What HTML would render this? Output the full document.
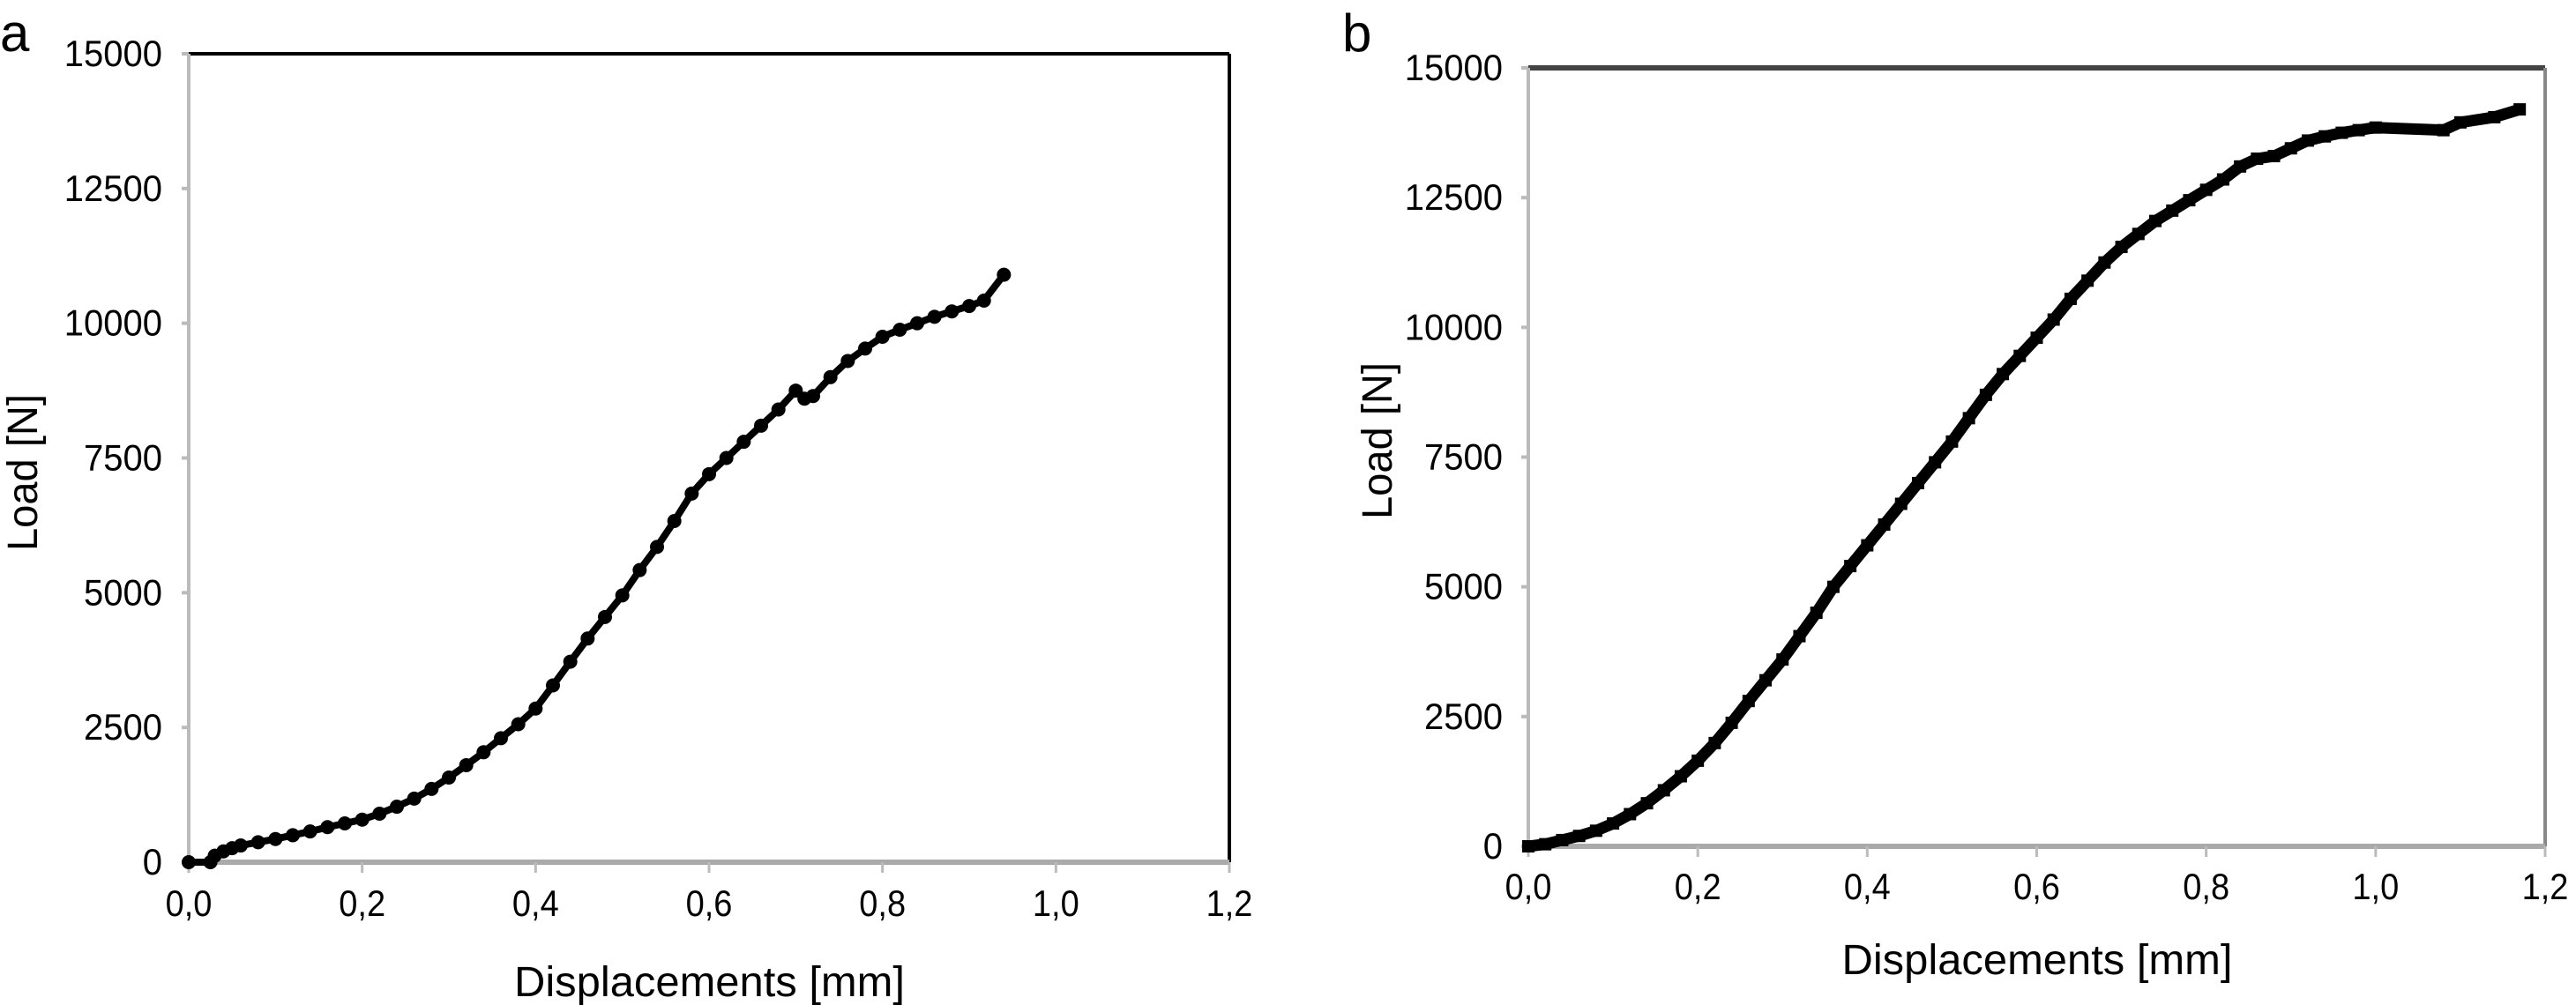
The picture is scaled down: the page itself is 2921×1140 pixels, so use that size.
<!DOCTYPE html>
<html><head><meta charset="utf-8">
<style>
html,body{margin:0;padding:0;background:#fff;}
svg{display:block;font-family:"Liberation Sans",Arial,sans-serif;}
</style></head>
<body>
<svg id="chart" width="2921" height="1140" viewBox="0 0 2921 1140" xmlns="http://www.w3.org/2000/svg">
<g id="pa"></g>
<g id="pb"></g>
</svg>
<script>
const xTicks = [0, 0.2, 0.4, 0.6, 0.8, 1.0, 1.2];
const xTickLabels = ["0,0", "0,2", "0,4", "0,6", "0,8", "1,0", "1,2"];
const yTicks = [0, 2500, 5000, 7500, 10000, 12500, 15000];
const yTickLabels = ["0", "2500", "5000", "7500", "10000", "12500", "15000"];

const dispA = [0,0.025,0.03,0.04,0.05,0.06,0.08,0.1,0.12,0.14,0.16,0.18,0.2,0.22,0.24,0.26,0.28,0.3,0.32,0.34,0.36,0.38,0.4,0.42,0.44,0.46,0.48,0.5,0.52,0.54,0.56,0.58,0.6,0.62,0.64,0.66,0.68,0.7,0.71,0.72,0.74,0.76,0.78,0.8,0.82,0.84,0.86,0.88,0.9,0.917,0.94];
const loadA = [0,0,120,200,260,310,370,430,500,570,650,720,790,900,1030,1180,1360,1570,1800,2040,2300,2560,2850,3280,3720,4150,4550,4950,5420,5850,6330,6840,7200,7500,7800,8100,8400,8750,8600,8650,9000,9300,9530,9750,9880,10000,10120,10220,10320,10420,10900];

const dispB = [0,0.02,0.04,0.06,0.08,0.1,0.12,0.14,0.16,0.18,0.2,0.22,0.24,0.26,0.28,0.3,0.32,0.34,0.36,0.38,0.4,0.42,0.44,0.46,0.48,0.5,0.52,0.54,0.56,0.58,0.6,0.62,0.64,0.66,0.68,0.7,0.72,0.74,0.76,0.78,0.8,0.82,0.84,0.86,0.88,0.9,0.92,0.94,0.96,0.98,1.0,1.08,1.1,1.14,1.17];
const loadB = [0,40,120,200,300,440,620,830,1080,1350,1650,1990,2380,2800,3200,3600,4050,4500,5000,5400,5800,6200,6600,7000,7400,7800,8250,8700,9100,9450,9800,10150,10550,10900,11250,11550,11800,12050,12250,12450,12650,12850,13100,13250,13300,13450,13600,13680,13750,13800,13850,13800,13950,14050,14200];

const NS = "http://www.w3.org/2000/svg";
function mk(parent, tag, attrs, text){
  const e = document.createElementNS(NS, tag);
  for (const k in attrs) e.setAttribute(k, attrs[k]);
  if (text !== undefined) e.textContent = text;
  parent.appendChild(e);
  return e;
}

function drawPanel(g, cfg, xs, ys){
  const sx = v => cfg.l + v / 1.2 * (cfg.r - cfg.l);
  const sy = v => cfg.b - v / 15000 * (cfg.b - cfg.t);
  const top = mk(g, 'line', {x1:cfg.l, y1:cfg.t, x2:cfg.r, y2:cfg.t, stroke:cfg.topCol, 'stroke-width':cfg.topW});
  
  
  const right = mk(g, 'line', {x1:cfg.r, y1:cfg.t, x2:cfg.r, y2:cfg.b, stroke:cfg.rightCol, 'stroke-width':cfg.rightW});
  
  
  const yax = mk(g, 'line', {x1:cfg.l, y1:cfg.t, x2:cfg.l, y2:cfg.b, stroke:'#bbb', 'stroke-width':4});
  
  
  const xax = mk(g, 'line', {x1:cfg.l, y1:cfg.b, x2:cfg.r, y2:cfg.b, stroke:'#aaa', 'stroke-width':6});
  
  
  yTicks.forEach((v, i) => {
    const t = mk(g, 'line', {x1:cfg.l-8, y1:sy(v), x2:cfg.l, y2:sy(v), stroke:'#bbb', 'stroke-width':4});
    
    
    const lb = mk(g, 'text', {x:0, y:0, 'text-anchor':'end', 'font-size':40, fill:'#000', transform:`translate(${cfg.ylabR},${sy(v)+14}) scale(1,1.05)`}, yTickLabels[i]);
    
    
  });
  xTicks.forEach((v, i) => {
    const t = mk(g, 'line', {x1:sx(v), y1:cfg.b, x2:sx(v), y2:cfg.b+12, stroke:'#bbb', 'stroke-width':3});
    
    
    const lb = mk(g, 'text', {x:0, y:0, 'text-anchor':'middle', 'font-size':40, fill:'#000', transform:`translate(${sx(v)},${cfg.xlabY}) scale(0.95,1.05)`}, xTickLabels[i]);
    
    
  });
  const cx = (cfg.l+cfg.r)/2;
  const xt = mk(g, 'text', {x:cx - 221, y:cfg.xtitleY, 'font-size':48, fill:'#000', textLength:443, lengthAdjust:'spacingAndGlyphs'}, 'Displacements [mm]');
  
  
  const yt = mk(g, 'text', {x:-89, y:0, 'font-size':48, fill:'#000', textLength:178, lengthAdjust:'spacingAndGlyphs', transform:`translate(${cfg.ytitleX},${cfg.ytitleY}) rotate(-90)`}, 'Load [N]');
  
  
  const pl = mk(g, 'text', {x:cfg.labX, y:cfg.labY, 'font-size':60, fill:'#000'}, cfg.label);
  
  
  const pts = xs.map((x, i) => sx(x).toFixed(1) + ',' + sy(ys[i]).toFixed(1)).join(' ');
  const line = mk(g, 'polyline', {points:pts, fill:'none', stroke:'#000', 'stroke-width':cfg.lineW, 'stroke-linejoin':'round'});
  
  
  xs.forEach((x, i) => {
    let m;
    if (cfg.marker === 'circle') {
      m = mk(g, 'circle', {cx:sx(x), cy:sy(ys[i]), r:8, fill:'#000'});
    } else {
      m = mk(g, 'rect', {x:sx(x)-7, y:sy(ys[i])-7, width:14, height:14, fill:'#000'});
    }
    
    
  });
}

drawPanel(document.getElementById('pa'), {l:214, r:1394, t:61, b:978, ylabR:184, xlabY:1039, xtitleY:1130, ytitleX:42, ytitleY:536, labX:0, labY:58, label:'a', topCol:'#000', topW:4, rightCol:'#000', rightW:4, lineW:8, marker:'circle'}, dispA, loadA);
drawPanel(document.getElementById('pb'), {l:1733, r:2886, t:77, b:960, ylabR:1704, xlabY:1020, xtitleY:1105, ytitleX:1578, ytitleY:500, labX:1522, labY:58, label:'b', topCol:'#444', topW:6, rightCol:'#888', rightW:4, lineW:13, marker:'square'}, dispB, loadB);
</script>
</body></html>
